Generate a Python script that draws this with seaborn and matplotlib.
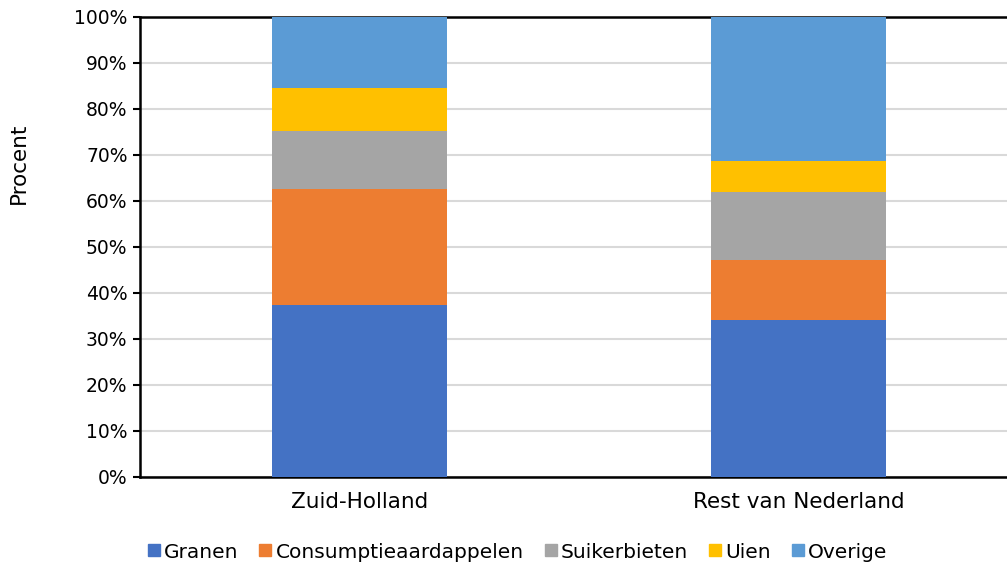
import numpy as np
import pandas as pd
import matplotlib
matplotlib.use("Agg")
import matplotlib.pyplot as plt
from matplotlib.lines import Line2D
import seaborn as sns

# Data (percent of area)
regions = ["Zuid-Holland", "Rest van Nederland"]
gewassen = ["Granen", "Consumptieaardappelen", "Suikerbieten", "Uien", "Overige"]
granen = [37.3, 34.1]
consumptieaardappelen = [25.2, 13.0]
suikerbieten = [12.8, 14.8]
uien = [9.2, 6.8]
overige = [15.5, 31.3]
yticks = [0, 10, 20, 30, 40, 50, 60, 70, 80, 90, 100]

colors = ["#4472C4", "#ED7D31", "#A5A5A5", "#FFC000", "#5B9BD5"]

sns.set_theme(style="white")
plt.rcParams['font.family'] = ['DejaVu Sans']
plt.rcParams['text.color'] = '#000000'

fig = plt.figure(figsize=(10.07, 5.66), dpi=100)
ax = fig.add_axes([140 / 1007, 1 - 477 / 566, 1 - 140 / 1007, (477 - 17) / 566])

series = [granen, consumptieaardappelen, suikerbieten, uien, overige]
bottom = np.zeros(len(regions))
for name, vals, col in zip(gewassen, series, colors):
    sns.barplot(x=regions, y=vals, bottom=bottom, color=col, width=0.4,
                saturation=1, linewidth=0, ax=ax, zorder=3)
    bottom = bottom + np.array(vals)

ax.set_ylim(0, 100)
ax.set_xlim(-0.5, 1.475)
ax.set_yticks(yticks)
ax.set_yticklabels([f"{t}%" for t in yticks], fontsize=13.5, color="#000000")
ax.tick_params(axis="x", labelsize=15.5, colors="#000000", length=0, pad=11)
ax.tick_params(axis="y", length=5, width=1.5, color="#000000", direction="out", pad=4, left=True)
ax.yaxis.grid(True, color="#d9d9d9", linewidth=1.5, zorder=0)
ax.set_axisbelow(True)

for side in ["left", "bottom", "top"]:
    ax.spines[side].set_visible(True)
    ax.spines[side].set_color("#000000")
    ax.spines[side].set_linewidth(1.8)
ax.spines["right"].set_visible(False)

ax.set_xlabel("")
ax.set_ylabel("Procent", fontsize=15.5, color="#000000")
ax.yaxis.set_label_coords((29 - 140) / 867, (477 - 163) / 460)

handles = [Line2D([0], [0], marker="s", linestyle="", markersize=9,
                  markerfacecolor=c, markeredgecolor=c) for c in colors]
leg = fig.legend(handles, gewassen, loc="center", bbox_to_anchor=(0.512, 1 - 552 / 566),
                 ncol=5, frameon=False, fontsize=14.5, handletextpad=0.0,
                 columnspacing=0.85, handlelength=1.0)
for t in leg.get_texts():
    t.set_color("#000000")

fig.savefig("out.png", dpi=100)
